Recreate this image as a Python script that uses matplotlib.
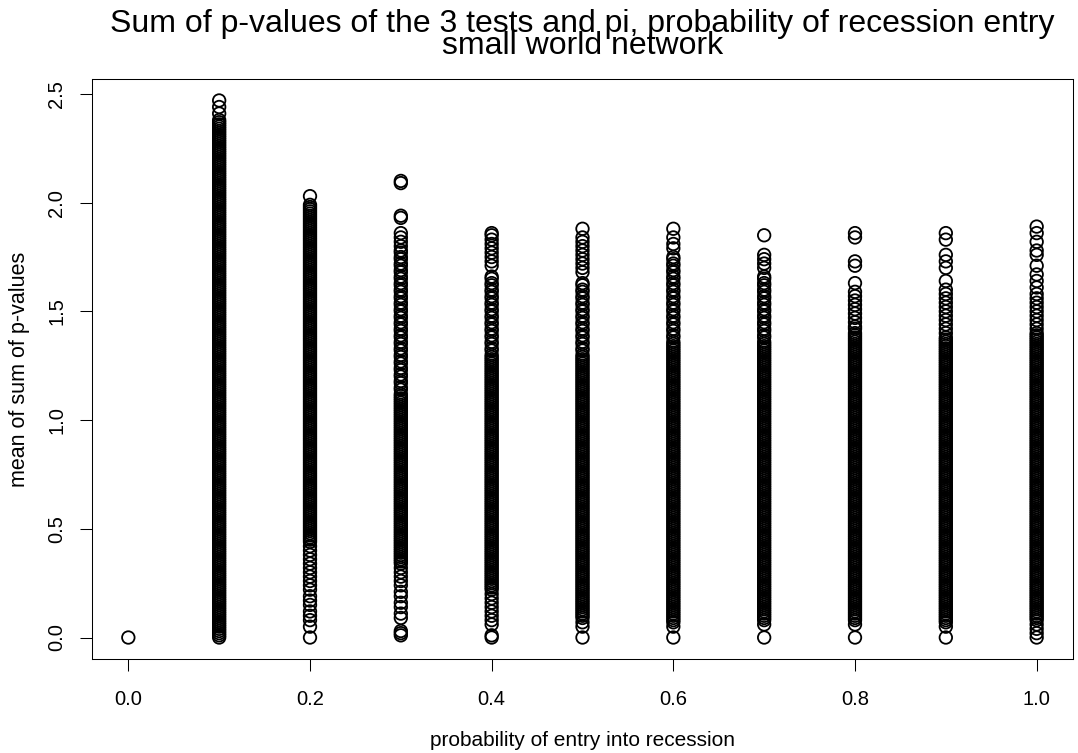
import matplotlib
matplotlib.use('Agg')
import matplotlib.pyplot as plt

# probability of entry into recession (x) and the mean of sum of p-values (y) per run
prob = [0.0, 0.1, 0.2, 0.3, 0.4, 0.5, 0.6, 0.7, 0.8, 0.9, 1.0]

p00 = [0.00]

p01 = [0.00, 0.01, 0.02, 0.03, 0.04, 0.05, 0.06, 0.07, 0.08, 0.09, 0.10, 0.11, 0.12, 0.13, 0.14, 0.15, 0.16, 0.17, 0.18, 0.19,
       0.20, 0.21, 0.22, 0.23, 0.24, 0.25, 0.26, 0.27, 0.28, 0.29, 0.30, 0.31, 0.32, 0.33, 0.34, 0.35, 0.36, 0.37, 0.38, 0.39,
       0.40, 0.41, 0.42, 0.43, 0.44, 0.45, 0.46, 0.47, 0.48, 0.49, 0.50, 0.51, 0.52, 0.53, 0.54, 0.55, 0.56, 0.57, 0.58, 0.59,
       0.60, 0.61, 0.62, 0.63, 0.64, 0.65, 0.66, 0.67, 0.68, 0.69, 0.70, 0.71, 0.72, 0.73, 0.74, 0.75, 0.76, 0.77, 0.78, 0.79,
       0.80, 0.81, 0.82, 0.83, 0.84, 0.85, 0.86, 0.87, 0.88, 0.89, 0.90, 0.91, 0.92, 0.93, 0.94, 0.95, 0.96, 0.97, 0.98, 0.99,
       1.00, 1.01, 1.02, 1.03, 1.04, 1.05, 1.06, 1.07, 1.08, 1.09, 1.10, 1.11, 1.12, 1.13, 1.14, 1.15, 1.16, 1.17, 1.18, 1.19,
       1.20, 1.21, 1.22, 1.23, 1.24, 1.25, 1.26, 1.27, 1.28, 1.29, 1.30, 1.31, 1.32, 1.33, 1.34, 1.35, 1.36, 1.37, 1.38, 1.39,
       1.40, 1.41, 1.42, 1.43, 1.44, 1.45, 1.46, 1.47, 1.48, 1.49, 1.50, 1.51, 1.52, 1.53, 1.54, 1.55, 1.56, 1.57, 1.58, 1.59,
       1.60, 1.61, 1.62, 1.63, 1.64, 1.65, 1.66, 1.67, 1.68, 1.69, 1.70, 1.71, 1.72, 1.73, 1.74, 1.75, 1.76, 1.77, 1.78, 1.79,
       1.80, 1.81, 1.82, 1.83, 1.84, 1.85, 1.86, 1.87, 1.88, 1.89, 1.90, 1.91, 1.92, 1.93, 1.94, 1.95, 1.96, 1.97, 1.98, 1.99,
       2.00, 2.01, 2.02, 2.03, 2.04, 2.05, 2.06, 2.07, 2.08, 2.09, 2.10, 2.11, 2.12, 2.13, 2.14, 2.15, 2.16, 2.17, 2.18, 2.19,
       2.20, 2.21, 2.22, 2.23, 2.24, 2.25, 2.26, 2.27, 2.28, 2.29, 2.30, 2.31, 2.32, 2.33, 2.34, 2.35, 2.36, 2.37, 2.38,
       2.41, 2.44, 2.47]

p02 = [0.00, 0.05, 0.08, 0.10, 0.12, 0.15, 0.17, 0.19, 0.22, 0.24, 0.26, 0.28, 0.30, 0.32, 0.34, 0.36, 0.38, 0.40, 0.42, 0.44,
       0.45, 0.46, 0.47, 0.48, 0.49, 0.50, 0.51, 0.52, 0.53, 0.54, 0.55, 0.56, 0.57, 0.58, 0.59,
       0.60, 0.61, 0.62, 0.63, 0.64, 0.65, 0.66, 0.67, 0.68, 0.69, 0.70, 0.71, 0.72, 0.73, 0.74, 0.75, 0.76, 0.77, 0.78, 0.79,
       0.80, 0.81, 0.82, 0.83, 0.84, 0.85, 0.86, 0.87, 0.88, 0.89, 0.90, 0.91, 0.92, 0.93, 0.94, 0.95, 0.96, 0.97, 0.98, 0.99,
       1.00, 1.01, 1.02, 1.03, 1.04, 1.05, 1.06, 1.07, 1.08, 1.09, 1.10, 1.11, 1.12, 1.13, 1.14, 1.15, 1.16, 1.17, 1.18, 1.19,
       1.20, 1.21, 1.22, 1.23, 1.24, 1.25, 1.26, 1.27, 1.28, 1.29, 1.30, 1.31, 1.32, 1.33, 1.34, 1.35, 1.36, 1.37, 1.38, 1.39,
       1.40, 1.41, 1.42, 1.43, 1.44, 1.45, 1.46, 1.47, 1.48, 1.49, 1.50, 1.51, 1.52, 1.53, 1.54, 1.55, 1.56, 1.57, 1.58, 1.59,
       1.60, 1.61, 1.62, 1.63, 1.64, 1.65, 1.66, 1.67, 1.68, 1.69, 1.70, 1.71, 1.72, 1.73, 1.74, 1.75, 1.76, 1.77, 1.78, 1.79,
       1.80, 1.81, 1.82, 1.83, 1.84, 1.85, 1.86, 1.87, 1.88, 1.89, 1.90, 1.91, 1.92, 1.93, 1.94, 1.95, 1.96, 1.97, 1.98, 1.99,
       2.03]

p03 = [0.01, 0.02, 0.03, 0.09, 0.11, 0.14, 0.16, 0.19, 0.21, 0.24, 0.26, 0.28, 0.30, 0.32, 0.34,
       0.35, 0.36, 0.37, 0.38, 0.39, 0.40, 0.41, 0.42, 0.43, 0.44, 0.45, 0.46, 0.47, 0.48, 0.49, 0.50, 0.51, 0.52, 0.53, 0.54,
       0.55, 0.56, 0.57, 0.58, 0.59, 0.60, 0.61, 0.62, 0.63, 0.64, 0.65, 0.66, 0.67, 0.68, 0.69, 0.70, 0.71, 0.72, 0.73, 0.74,
       0.75, 0.76, 0.77, 0.78, 0.79, 0.80, 0.81, 0.82, 0.83, 0.84, 0.85, 0.86, 0.87, 0.88, 0.89, 0.90, 0.91, 0.92, 0.93, 0.94,
       0.95, 0.96, 0.97, 0.98, 0.99, 1.00, 1.01, 1.02, 1.03, 1.04, 1.05, 1.06, 1.07, 1.08, 1.09, 1.10, 1.11, 1.12,
       1.14, 1.15, 1.17, 1.18, 1.20, 1.21, 1.23, 1.24, 1.26, 1.27, 1.29, 1.30, 1.32, 1.33, 1.35, 1.36, 1.38, 1.39, 1.41, 1.42,
       1.44, 1.45, 1.47, 1.48, 1.50, 1.51, 1.53, 1.54, 1.56, 1.57, 1.59, 1.60, 1.62, 1.63, 1.65, 1.66, 1.68, 1.69, 1.71, 1.72,
       1.74, 1.75, 1.77, 1.78, 1.80, 1.82, 1.84, 1.86, 1.93, 1.94, 2.09, 2.10]

p04 = [0.00, 0.01, 0.06, 0.08, 0.10, 0.12, 0.14, 0.16, 0.18, 0.20, 0.22,
       0.23, 0.24, 0.25, 0.26, 0.27, 0.28, 0.29, 0.30, 0.31, 0.32, 0.33, 0.34, 0.35, 0.36, 0.37, 0.38, 0.39,
       0.40, 0.41, 0.42, 0.43, 0.44, 0.45, 0.46, 0.47, 0.48, 0.49, 0.50, 0.51, 0.52, 0.53, 0.54, 0.55, 0.56, 0.57, 0.58, 0.59,
       0.60, 0.61, 0.62, 0.63, 0.64, 0.65, 0.66, 0.67, 0.68, 0.69, 0.70, 0.71, 0.72, 0.73, 0.74, 0.75, 0.76, 0.77, 0.78, 0.79,
       0.80, 0.81, 0.82, 0.83, 0.84, 0.85, 0.86, 0.87, 0.88, 0.89, 0.90, 0.91, 0.92, 0.93, 0.94, 0.95, 0.96, 0.97, 0.98, 0.99,
       1.00, 1.01, 1.02, 1.03, 1.04, 1.05, 1.06, 1.07, 1.08, 1.09, 1.10, 1.11, 1.12, 1.13, 1.14, 1.15, 1.16, 1.17, 1.18, 1.19,
       1.20, 1.21, 1.22, 1.23, 1.24, 1.25, 1.26, 1.27, 1.28, 1.29, 1.30,
       1.32, 1.33, 1.35, 1.36, 1.38, 1.39, 1.41, 1.42, 1.44, 1.45, 1.47, 1.48, 1.50, 1.51, 1.53, 1.54, 1.56, 1.57, 1.59, 1.60,
       1.62, 1.63, 1.65, 1.66, 1.71, 1.73, 1.75, 1.77, 1.79, 1.81, 1.83, 1.85, 1.86]

p05 = [0.00, 0.05, 0.07, 0.09,
       0.10, 0.11, 0.12, 0.13, 0.14, 0.15, 0.16, 0.17, 0.18, 0.19,
       0.20, 0.21, 0.22, 0.23, 0.24, 0.25, 0.26, 0.27, 0.28, 0.29, 0.30, 0.31, 0.32, 0.33, 0.34, 0.35, 0.36, 0.37, 0.38, 0.39,
       0.40, 0.41, 0.42, 0.43, 0.44, 0.45, 0.46, 0.47, 0.48, 0.49, 0.50, 0.51, 0.52, 0.53, 0.54, 0.55, 0.56, 0.57, 0.58, 0.59,
       0.60, 0.61, 0.62, 0.63, 0.64, 0.65, 0.66, 0.67, 0.68, 0.69, 0.70, 0.71, 0.72, 0.73, 0.74, 0.75, 0.76, 0.77, 0.78, 0.79,
       0.80, 0.81, 0.82, 0.83, 0.84, 0.85, 0.86, 0.87, 0.88, 0.89, 0.90, 0.91, 0.92, 0.93, 0.94, 0.95, 0.96, 0.97, 0.98, 0.99,
       1.00, 1.01, 1.02, 1.03, 1.04, 1.05, 1.06, 1.07, 1.08, 1.09, 1.10, 1.11, 1.12, 1.13, 1.14, 1.15, 1.16, 1.17, 1.18, 1.19,
       1.20, 1.21, 1.22, 1.23, 1.24, 1.25, 1.26, 1.27, 1.28, 1.29, 1.30,
       1.32, 1.33, 1.35, 1.36, 1.38, 1.39, 1.41, 1.42, 1.44, 1.45, 1.47, 1.48, 1.50, 1.51, 1.53, 1.54, 1.56, 1.57, 1.59, 1.60,
       1.62, 1.63, 1.68, 1.70, 1.72, 1.74, 1.76, 1.78, 1.80, 1.82, 1.84, 1.88]

p06 = [0.00, 0.05, 0.07,
       0.08, 0.09, 0.10, 0.11, 0.12, 0.13, 0.14, 0.15, 0.16, 0.17, 0.18, 0.19,
       0.20, 0.21, 0.22, 0.23, 0.24, 0.25, 0.26, 0.27, 0.28, 0.29, 0.30, 0.31, 0.32, 0.33, 0.34, 0.35, 0.36, 0.37, 0.38, 0.39,
       0.40, 0.41, 0.42, 0.43, 0.44, 0.45, 0.46, 0.47, 0.48, 0.49, 0.50, 0.51, 0.52, 0.53, 0.54, 0.55, 0.56, 0.57, 0.58, 0.59,
       0.60, 0.61, 0.62, 0.63, 0.64, 0.65, 0.66, 0.67, 0.68, 0.69, 0.70, 0.71, 0.72, 0.73, 0.74, 0.75, 0.76, 0.77, 0.78, 0.79,
       0.80, 0.81, 0.82, 0.83, 0.84, 0.85, 0.86, 0.87, 0.88, 0.89, 0.90, 0.91, 0.92, 0.93, 0.94, 0.95, 0.96, 0.97, 0.98, 0.99,
       1.00, 1.01, 1.02, 1.03, 1.04, 1.05, 1.06, 1.07, 1.08, 1.09, 1.10, 1.11, 1.12, 1.13, 1.14, 1.15, 1.16, 1.17, 1.18, 1.19,
       1.20, 1.21, 1.22, 1.23, 1.24, 1.25, 1.26, 1.27, 1.28, 1.29, 1.30, 1.31, 1.32, 1.33, 1.34, 1.35,
       1.36, 1.38, 1.39, 1.41, 1.42, 1.44, 1.45, 1.47, 1.48, 1.50, 1.51, 1.53, 1.54, 1.56, 1.57, 1.59, 1.60, 1.62, 1.63, 1.65,
       1.66, 1.68, 1.69, 1.71, 1.72, 1.74, 1.75, 1.79, 1.81, 1.84, 1.88]

p07 = [0.00, 0.06, 0.08,
       0.09, 0.10, 0.11, 0.12, 0.13, 0.14, 0.15, 0.16, 0.17, 0.18, 0.19,
       0.20, 0.21, 0.22, 0.23, 0.24, 0.25, 0.26, 0.27, 0.28, 0.29, 0.30, 0.31, 0.32, 0.33, 0.34, 0.35, 0.36, 0.37, 0.38, 0.39,
       0.40, 0.41, 0.42, 0.43, 0.44, 0.45, 0.46, 0.47, 0.48, 0.49, 0.50, 0.51, 0.52, 0.53, 0.54, 0.55, 0.56, 0.57, 0.58, 0.59,
       0.60, 0.61, 0.62, 0.63, 0.64, 0.65, 0.66, 0.67, 0.68, 0.69, 0.70, 0.71, 0.72, 0.73, 0.74, 0.75, 0.76, 0.77, 0.78, 0.79,
       0.80, 0.81, 0.82, 0.83, 0.84, 0.85, 0.86, 0.87, 0.88, 0.89, 0.90, 0.91, 0.92, 0.93, 0.94, 0.95, 0.96, 0.97, 0.98, 0.99,
       1.00, 1.01, 1.02, 1.03, 1.04, 1.05, 1.06, 1.07, 1.08, 1.09, 1.10, 1.11, 1.12, 1.13, 1.14, 1.15, 1.16, 1.17, 1.18, 1.19,
       1.20, 1.21, 1.22, 1.23, 1.24, 1.25, 1.26, 1.27, 1.28, 1.29, 1.30, 1.31, 1.32, 1.33, 1.34, 1.35,
       1.36, 1.38, 1.39, 1.41, 1.42, 1.44, 1.45, 1.47, 1.48, 1.50, 1.51, 1.53, 1.54, 1.56, 1.57, 1.59, 1.60, 1.62, 1.63, 1.65,
       1.66, 1.70, 1.72, 1.74, 1.76, 1.85]

p08 = [0.00, 0.06, 0.08,
       0.09, 0.10, 0.11, 0.12, 0.13, 0.14, 0.15, 0.16, 0.17, 0.18, 0.19,
       0.20, 0.21, 0.22, 0.23, 0.24, 0.25, 0.26, 0.27, 0.28, 0.29, 0.30, 0.31, 0.32, 0.33, 0.34, 0.35, 0.36, 0.37, 0.38, 0.39,
       0.40, 0.41, 0.42, 0.43, 0.44, 0.45, 0.46, 0.47, 0.48, 0.49, 0.50, 0.51, 0.52, 0.53, 0.54, 0.55, 0.56, 0.57, 0.58, 0.59,
       0.60, 0.61, 0.62, 0.63, 0.64, 0.65, 0.66, 0.67, 0.68, 0.69, 0.70, 0.71, 0.72, 0.73, 0.74, 0.75, 0.76, 0.77, 0.78, 0.79,
       0.80, 0.81, 0.82, 0.83, 0.84, 0.85, 0.86, 0.87, 0.88, 0.89, 0.90, 0.91, 0.92, 0.93, 0.94, 0.95, 0.96, 0.97, 0.98, 0.99,
       1.00, 1.01, 1.02, 1.03, 1.04, 1.05, 1.06, 1.07, 1.08, 1.09, 1.10, 1.11, 1.12, 1.13, 1.14, 1.15, 1.16, 1.17, 1.18, 1.19,
       1.20, 1.21, 1.22, 1.23, 1.24, 1.25, 1.26, 1.27, 1.28, 1.29, 1.30, 1.31, 1.32, 1.33, 1.34, 1.35, 1.36, 1.37, 1.38, 1.39,
       1.40, 1.42, 1.43, 1.45, 1.47, 1.49, 1.51, 1.53, 1.55, 1.57, 1.59, 1.63, 1.71, 1.73, 1.84, 1.86]

p09 = [0.00, 0.05, 0.07,
       0.08, 0.09, 0.10, 0.11, 0.12, 0.13, 0.14, 0.15, 0.16, 0.17, 0.18, 0.19,
       0.20, 0.21, 0.22, 0.23, 0.24, 0.25, 0.26, 0.27, 0.28, 0.29, 0.30, 0.31, 0.32, 0.33, 0.34, 0.35, 0.36, 0.37, 0.38, 0.39,
       0.40, 0.41, 0.42, 0.43, 0.44, 0.45, 0.46, 0.47, 0.48, 0.49, 0.50, 0.51, 0.52, 0.53, 0.54, 0.55, 0.56, 0.57, 0.58, 0.59,
       0.60, 0.61, 0.62, 0.63, 0.64, 0.65, 0.66, 0.67, 0.68, 0.69, 0.70, 0.71, 0.72, 0.73, 0.74, 0.75, 0.76, 0.77, 0.78, 0.79,
       0.80, 0.81, 0.82, 0.83, 0.84, 0.85, 0.86, 0.87, 0.88, 0.89, 0.90, 0.91, 0.92, 0.93, 0.94, 0.95, 0.96, 0.97, 0.98, 0.99,
       1.00, 1.01, 1.02, 1.03, 1.04, 1.05, 1.06, 1.07, 1.08, 1.09, 1.10, 1.11, 1.12, 1.13, 1.14, 1.15, 1.16, 1.17, 1.18, 1.19,
       1.20, 1.21, 1.22, 1.23, 1.24, 1.25, 1.26, 1.27, 1.28, 1.29, 1.30, 1.31, 1.32, 1.33, 1.34, 1.35, 1.36, 1.37, 1.38,
       1.40, 1.42, 1.44, 1.46, 1.48, 1.50, 1.52, 1.54, 1.56, 1.58, 1.60, 1.64, 1.70, 1.73, 1.76, 1.83, 1.86]

p10 = [0.00, 0.02, 0.04, 0.06,
       0.08, 0.09, 0.10, 0.11, 0.12, 0.13, 0.14, 0.15, 0.16, 0.17, 0.18, 0.19,
       0.20, 0.21, 0.22, 0.23, 0.24, 0.25, 0.26, 0.27, 0.28, 0.29, 0.30, 0.31, 0.32, 0.33, 0.34, 0.35, 0.36, 0.37, 0.38, 0.39,
       0.40, 0.41, 0.42, 0.43, 0.44, 0.45, 0.46, 0.47, 0.48, 0.49, 0.50, 0.51, 0.52, 0.53, 0.54, 0.55, 0.56, 0.57, 0.58, 0.59,
       0.60, 0.61, 0.62, 0.63, 0.64, 0.65, 0.66, 0.67, 0.68, 0.69, 0.70, 0.71, 0.72, 0.73, 0.74, 0.75, 0.76, 0.77, 0.78, 0.79,
       0.80, 0.81, 0.82, 0.83, 0.84, 0.85, 0.86, 0.87, 0.88, 0.89, 0.90, 0.91, 0.92, 0.93, 0.94, 0.95, 0.96, 0.97, 0.98, 0.99,
       1.00, 1.01, 1.02, 1.03, 1.04, 1.05, 1.06, 1.07, 1.08, 1.09, 1.10, 1.11, 1.12, 1.13, 1.14, 1.15, 1.16, 1.17, 1.18, 1.19,
       1.20, 1.21, 1.22, 1.23, 1.24, 1.25, 1.26, 1.27, 1.28, 1.29, 1.30, 1.31, 1.32, 1.33, 1.34, 1.35, 1.36, 1.37, 1.38, 1.39,
       1.40, 1.42, 1.44, 1.46, 1.48, 1.50, 1.52, 1.54, 1.56, 1.58, 1.61, 1.64, 1.67, 1.71, 1.76, 1.78, 1.82, 1.86, 1.89]

columns = [p00, p01, p02, p03, p04, p05, p06, p07, p08, p09, p10]

xticks = [0.0, 0.2, 0.4, 0.6, 0.8, 1.0]
yticks = [0.0, 0.5, 1.0, 1.5, 2.0, 2.5]

plt.rcParams['font.family'] = ['Liberation Sans', 'DejaVu Sans']

fig = plt.figure(figsize=(10.78, 7.53), dpi=100)
ax = fig.add_axes([92 / 1078, 94 / 753, 981 / 1078, 580 / 753])

# open circles like R's pch=1
for x, ys in zip(prob, columns):
    ax.scatter([x] * len(ys), ys, s=9 ** 2, marker='o', facecolors='none',
               edgecolors='black', linewidths=1.3)

ax.set_xlim(-0.04, 1.04)
ax.set_ylim(-0.0988, 2.5688)
ax.set_xticks(xticks)
ax.set_xticklabels(['%.1f' % v for v in xticks])
ax.set_yticks(yticks)
ax.set_yticklabels(['%.1f' % v for v in yticks], rotation=90, va='center')
ax.tick_params(axis='both', direction='out', length=8.6, width=0.75, labelsize=14.5, color='black')
ax.tick_params(axis='x', pad=14)
ax.tick_params(axis='y', pad=10)
for s in ax.spines.values():
    s.set_linewidth(0.75)
    s.set_color('black')

ax.set_xlabel('probability of entry into recession', fontsize=15, va='center')
ax.xaxis.set_label_coords(0.5, (659 - 741) / 580)
ax.set_ylabel('mean of sum of p-values', fontsize=15.5, va='center')
ax.yaxis.set_label_coords((20 - 92) / 981, 0.5)

cx = (92 + 1073) / 2 / 1078
fig.text(cx, 1 - 35 / 753,
         'Sum of p-values of the 3 tests and pi, probability of recession entry\nsmall world network',
         ha='center', va='center', multialignment='center', linespacing=0.66, fontsize=23)

fig.savefig('out.png', dpi=100)
